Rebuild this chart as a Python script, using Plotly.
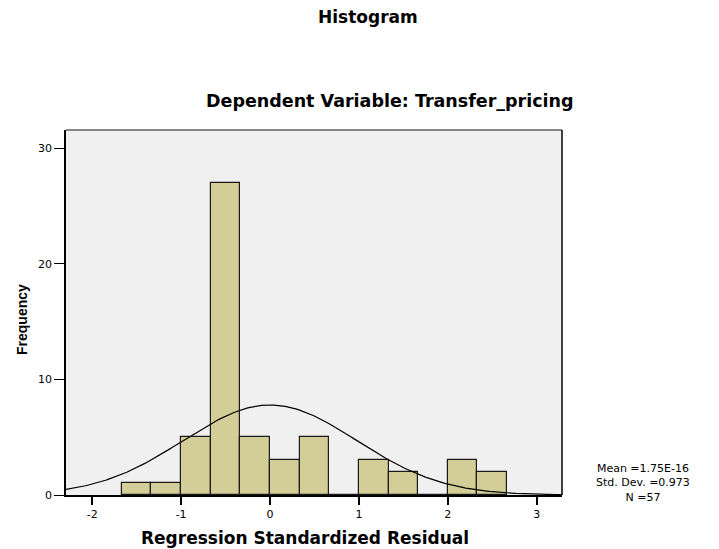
import numpy as np
import plotly.graph_objects as go

# Histogram data (bin left edges and counts)
bin_width = 1/3
bin_left_edges = [-5/3, -4/3, -1, -2/3, -1/3, 0, 1/3, 2/3, 1, 4/3, 5/3, 2, 7/3]
counts = [1, 1, 5, 27, 5, 3, 5, 0, 3, 2, 0, 3, 2]

# Summary statistics
mean_val = 1.75e-16
std_val = 0.973
n_val = 57

x_ticks = [-2, -1, 0, 1, 2, 3]
y_ticks = [0, 10, 20, 30]

centers = [e + bin_width / 2 for e in bin_left_edges]

# Fitted normal curve scaled to the histogram
xs = np.linspace(-2.3, 3.3, 400)
ys = n_val * bin_width / (std_val * np.sqrt(2 * np.pi)) * np.exp(-0.5 * ((xs - mean_val) / std_val) ** 2)

fig = go.Figure()
fig.add_trace(go.Bar(
    x=centers, y=counts, width=bin_width,
    marker=dict(color="#D3CE98", line=dict(color="#1a1a1a", width=1.2)),
    showlegend=False, hoverinfo="skip",
))
fig.add_trace(go.Scatter(
    x=xs, y=ys, mode="lines",
    line=dict(color="black", width=1.2),
    showlegend=False, hoverinfo="skip",
))

font_wide = "DejaVu Sans, Liberation Sans, sans-serif"
font_narrow = "Liberation Sans, Arial, sans-serif"

L, R, T, B = 66, 562, 130, 495
PW, PH = R - L, B - T

def px(x):
    return (x - L) / PW

def py(y):
    return (B - y) / PH

fig.update_layout(
    width=719, height=549,
    margin=dict(l=L, r=719 - R, t=T, b=549 - B),
    paper_bgcolor="white",
    plot_bgcolor="#F0F0F0",
    font=dict(family=font_wide, color="black", size=11),
    bargap=0,
    xaxis=dict(
        range=[-2.295, 3.285], tickvals=x_ticks, ticktext=[str(v) for v in x_ticks],
        showgrid=False, zeroline=False, showline=True, linecolor="black", linewidth=1.5,
        ticks="outside", ticklen=8, tickwidth=2, tickcolor="black",
        tickfont=dict(size=11, family=font_wide),
    ),
    yaxis=dict(
        range=[0, 31.58], tickvals=y_ticks, ticktext=[str(v) for v in y_ticks],
        showgrid=False, zeroline=False, showline=True, linecolor="black", linewidth=1.5,
        ticks="outside", ticklen=10, tickwidth=1, tickcolor="black",
        tickfont=dict(size=11, family=font_wide),
    ),
    shapes=[
        dict(type="line", xref="paper", yref="paper", x0=0, x1=1, y0=1, y1=1,
             line=dict(color="#888888", width=2)),
        dict(type="line", xref="paper", yref="paper", x0=1, x1=1, y0=0, y1=1,
             line=dict(color="black", width=1.5)),
    ],
    annotations=[
        dict(text="<b>Histogram</b>", xref="paper", yref="paper", x=px(368), y=py(17),
             showarrow=False, font=dict(size=17, family=font_wide), xanchor="center", yanchor="middle"),
        dict(text="<b>Dependent Variable: Transfer_pricing</b>", xref="paper", yref="paper",
             x=px(390), y=py(101),
             showarrow=False, font=dict(size=17.5, family=font_wide), xanchor="center", yanchor="middle"),
        dict(text="<b>Regression Standardized Residual</b>", xref="paper", yref="paper",
             x=px(305), y=py(538),
             showarrow=False, font=dict(size=17, family=font_wide), xanchor="center", yanchor="middle"),
        dict(text="<b>Frequency</b>", xref="paper", yref="paper",
             x=px(22), y=py(320), textangle=-90,
             showarrow=False, font=dict(size=14, family=font_narrow),
             xanchor="center", yanchor="middle"),
        dict(text=f"Mean ={mean_val:.2E}<br>Std. Dev. ={std_val}<br>N ={n_val}",
             xref="paper", yref="paper", x=px(643), y=py(483),
             showarrow=False, align="center", font=dict(size=11, family=font_wide),
             xanchor="center", yanchor="middle"),
    ],
)

fig.write_html("out.html", config={"displayModeBar": False},
               post_script="document.body.style.margin='0';document.body.style.padding='0';")
